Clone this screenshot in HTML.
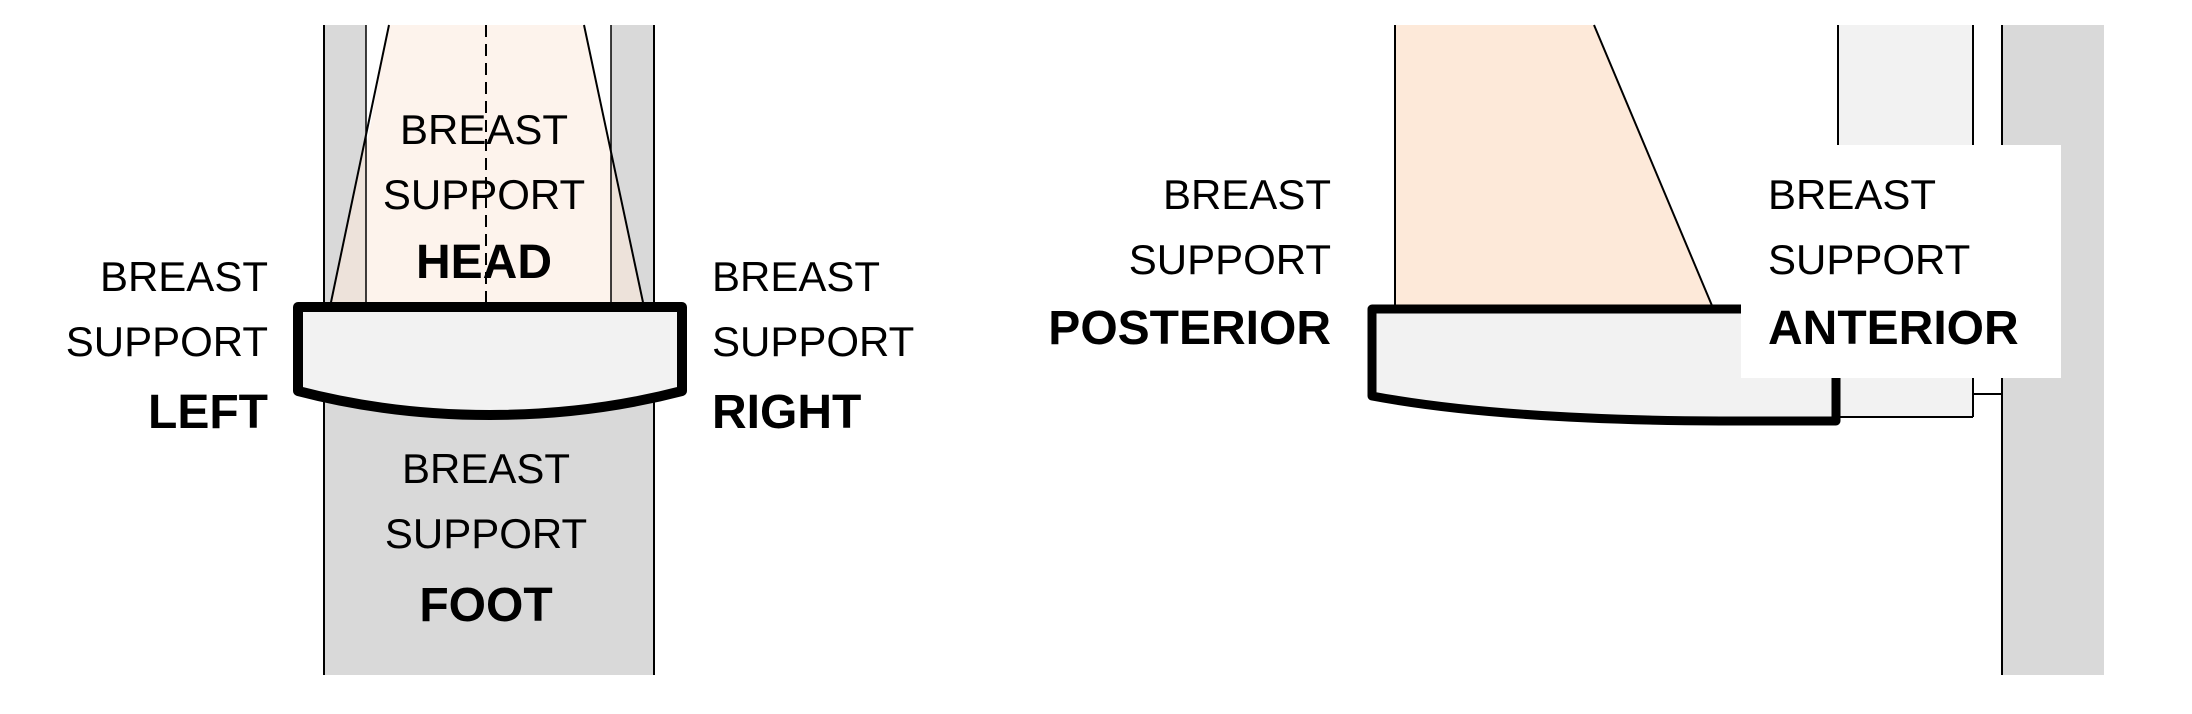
<!DOCTYPE html>
<html><head><meta charset="utf-8"><style>
html,body{margin:0;padding:0;background:#fff}
svg{display:block}
text{font-family:"Liberation Sans",sans-serif;fill:#000}
.r{font-size:42px}
.b{font-size:48px;font-weight:bold}
</style></head><body>
<svg width="2192" height="714" viewBox="0 0 2192 714" xmlns="http://www.w3.org/2000/svg">
<!-- LEFT DIAGRAM -->
<rect x="324" y="25" width="330" height="650" fill="#d9d9d9"/>
<rect x="366" y="25" width="245" height="285" fill="#fff"/>
<polygon points="389,25 584,25 644,307 330,307" fill="#ede2da"/>
<polygon points="389,25 584,25 611,150 611,307 366,307 366,150" fill="#fdf3ec"/>
<polygon points="389,25 366,150 366,25" fill="#fff"/>
<polygon points="584,25 611,150 611,25" fill="#fff"/>
<line x1="324" y1="25" x2="324" y2="675" stroke="#000" stroke-width="2"/>
<line x1="654" y1="25" x2="654" y2="675" stroke="#000" stroke-width="2"/>
<line x1="366" y1="25" x2="366" y2="307" stroke="#000" stroke-width="1.5"/>
<line x1="611" y1="25" x2="611" y2="307" stroke="#000" stroke-width="1.5"/>
<line x1="389" y1="25" x2="330" y2="307" stroke="#000" stroke-width="2"/>
<line x1="584" y1="25" x2="644" y2="307" stroke="#000" stroke-width="2"/>
<line x1="486" y1="25" x2="486" y2="307" stroke="#000" stroke-width="2" stroke-dasharray="12,7"/>
<path d="M298,307 L682,307 L682,391 Q590,415 490,415 Q390,415 298,391 Z" fill="#f2f2f2" stroke="#000" stroke-width="10" stroke-linejoin="round"/>
<g class="r" text-anchor="middle">
<text x="484" y="144">BREAST</text>
<text x="484" y="209">SUPPORT</text>
<text x="486" y="483">BREAST</text>
<text x="486" y="548">SUPPORT</text>
</g>
<g class="b" text-anchor="middle">
<text x="484" y="278">HEAD</text>
<text x="486" y="621">FOOT</text>
</g>
<g text-anchor="end">
<text class="r" x="268" y="291">BREAST</text>
<text class="r" x="268" y="356">SUPPORT</text>
<text class="b" x="268" y="428">LEFT</text>
</g>
<g text-anchor="start">
<text class="r" x="712" y="291">BREAST</text>
<text class="r" x="712" y="356">SUPPORT</text>
<text class="b" x="712" y="428">RIGHT</text>
</g>

<!-- RIGHT DIAGRAM -->
<rect x="2002" y="25" width="102" height="650" fill="#d9d9d9"/>
<line x1="2002" y1="25" x2="2002" y2="675" stroke="#000" stroke-width="2"/>
<rect x="1838" y="25" width="135" height="392" fill="#f2f2f2"/>
<line x1="1838" y1="25" x2="1838" y2="417" stroke="#000" stroke-width="2"/>
<line x1="1973" y1="25" x2="1973" y2="417" stroke="#000" stroke-width="2"/>
<line x1="1838" y1="417" x2="1973" y2="417" stroke="#000" stroke-width="2"/>
<line x1="1973" y1="394" x2="2002" y2="394" stroke="#000" stroke-width="2"/>
<polygon points="1395,25 1594,25 1713,308 1395,308" fill="#fde9d9"/>
<line x1="1395" y1="25" x2="1395" y2="308" stroke="#000" stroke-width="2"/>
<line x1="1594" y1="25" x2="1713" y2="308" stroke="#000" stroke-width="2"/>
<path d="M1372,309 L1836,309 L1836,421 L1720,421 Q1500,420 1372,396 Z" fill="#f2f2f2" stroke="#000" stroke-width="9" stroke-linejoin="round"/>
<rect x="1741" y="145" width="320" height="233" fill="#fff"/>
<g text-anchor="end">
<text class="r" x="1331" y="209">BREAST</text>
<text class="r" x="1331" y="274">SUPPORT</text>
<text class="b" x="1331" y="344">POSTERIOR</text>
</g>
<g text-anchor="start">
<text class="r" x="1768" y="209">BREAST</text>
<text class="r" x="1768" y="274">SUPPORT</text>
<text class="b" x="1768" y="344">ANTERIOR</text>
</g>
</svg>
</body></html>
